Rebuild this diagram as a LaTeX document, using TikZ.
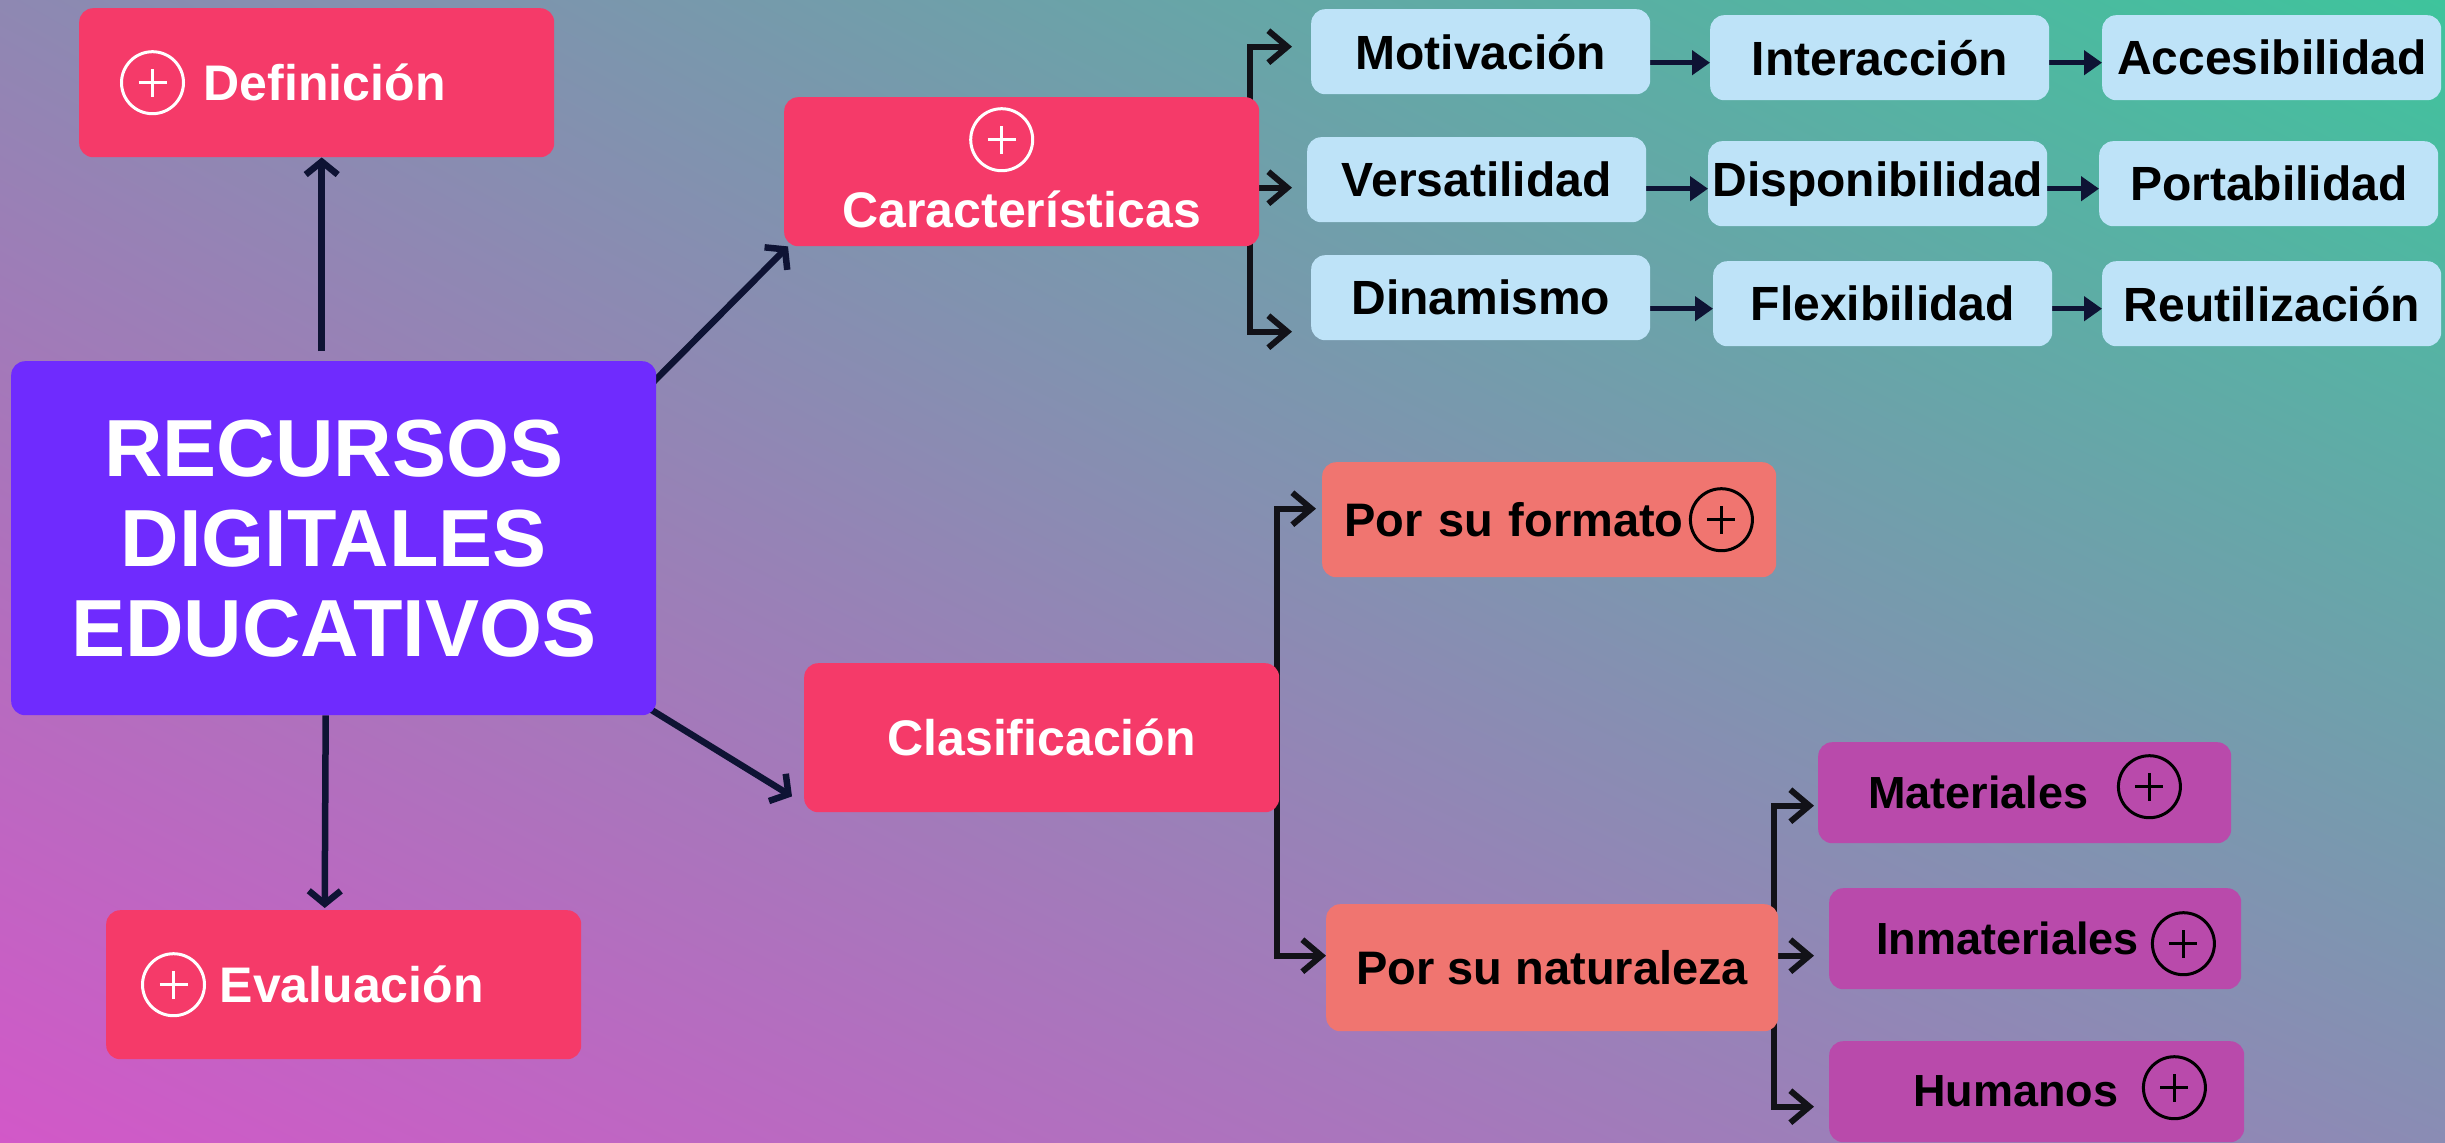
\documentclass[tikz,border=0pt]{standalone}
\usepackage{fontspec}
\setmainfont{Liberation Sans}
\usetikzlibrary{positioning,calc,arrows.meta,shadings}
\pgfdeclarelayer{back}
\pgfsetlayers{back,main}

\definecolor{bgteal}{HTML}{3EC49C}
\definecolor{bgmid}{HTML}{8E88B2}
\definecolor{bgmidb}{HTML}{8A8CB4}
\definecolor{bgpink}{HTML}{D258C8}
\definecolor{titleviolet}{HTML}{6F2BFE}
\definecolor{boxred}{HTML}{F53A69}
\definecolor{boxblue}{HTML}{BEE3F8}
\definecolor{boxsalmon}{HTML}{F07570}
\definecolor{boxpink}{HTML}{B94AAB}
\definecolor{linknavy}{HTML}{0E1334}
\definecolor{linkdark}{HTML}{121218}

\begin{document}
\begin{tikzpicture}[x=1pt,y=1pt,yscale=-1,
  box/.style={rounded corners=14pt, inner sep=0pt, anchor=north west, font=\bfseries\fontsize{48}{56}\selectfont},
  redbox/.style={box, fill=boxred, text=white, minimum width=475pt, minimum height=149pt, font=\bfseries\fontsize{50}{58}\selectfont},
  bluebox/.style={box, fill=boxblue, text=black, minimum width=339pt, minimum height=85pt},
  salmonbox/.style={box, fill=boxsalmon, text=black, minimum width=452pt, font=\bfseries\fontsize{47}{56}\selectfont},
  pinkbox/.style={box, fill=boxpink, text=black, align=left, minimum height=101pt, font=\bfseries\fontsize{45}{54}\selectfont},
  plusmark/.style={circle, draw=#1, line width=3pt, minimum size=62pt, inner sep=0pt,
    path picture={\draw[#1, line width=2.5pt]
      ($(path picture bounding box.center)+(-14,0)$) -- ($(path picture bounding box.center)+(14,0)$)
      ($(path picture bounding box.center)+(0,-14)$) -- ($(path picture bounding box.center)+(0,14)$);}},
  link/.style={draw=linknavy, line width=6.5pt, -{Straight Barb[length=13pt,width=32pt]}},
  branch/.style={draw=linkdark, line width=6pt},
  forktip/.style={branch, -{Straight Barb[length=19pt,width=32pt]}},
  forkpair/.style={branch, {Straight Barb[length=19pt,width=32pt]}-{Straight Barb[length=19pt,width=32pt]}},
  rowlink/.style={draw=linknavy, line width=5.5pt, -{Triangle[length=18pt,width=24pt]}}
]
\useasboundingbox (0,0) rectangle (2445,1143);

%Background
\begin{pgfonlayer}{back}
\shade[upper left=bgmid, upper right=bgteal, lower left=bgpink, lower right=bgmidb] (0,0) rectangle (2445,1143);
\end{pgfonlayer}

%Title box
\node[box, fill=titleviolet, text=white, minimum width=645pt, minimum height=354pt, align=center, font=\bfseries\fontsize{81}{90}\selectfont] (central) at (11,361) {RECURSOS\\DIGITALES\\EDUCATIVOS};

%Red boxes
\node[redbox] (defn) at (79,8) {\hspace*{16pt}Definición};
\node[plusmark=white, right=41pt of defn.west] (defnplus) {};
\node[redbox] (eval) at (106,910) {\hspace*{16pt}Evaluación};
\node[plusmark=white, right=35pt of eval.west] (evalplus) {};
\node[redbox, text height=112pt, text depth=0pt] (carac) at (784,97) {Características};
\node[plusmark=white] (caracplus) at ($(carac.center)+(-20,-32)$) {};
\node[redbox] (clas) at (804,663) {Clasificación};

%Characteristics
\node[bluebox] (motiv) at (1311,9) {Motivación};
\node[bluebox] (inter) at (1710,15) {Interacción};
\node[bluebox] (acces) at (2102,15) {Accesibilidad};
\node[bluebox] (versa) at (1307,137) {Versatilidad};
\node[bluebox] (dispo) at (1708,141) {Disponibilidad};
\node[bluebox] (porta) at (2099,141) {Portabilidad};
\node[bluebox] (dinam) at (1311,255) {Dinamismo};
\node[bluebox] (flexi) at (1713,261) {Flexibilidad};
\node[bluebox] (reuti) at (2102,261) {Reutilización};

%Classification
\node[salmonbox, minimum height=115pt, inner xsep=22pt, text width=410pt, align=left] (formato) at (1322,462) {Por su formato};
\node[plusmark=black] (formatoplus) at ($(formato.east)+(-55,0)$) {};
\node[salmonbox, minimum height=127pt] (natur) at (1326,904) {Por su naturaleza};
\node[pinkbox, inner xsep=50pt, text width=313pt] (mater) at (1818,742) {Materiales};
\node[plusmark=black] (materplus) at ($(mater.east)+(-82,-6)$) {};
\node[pinkbox, inner xsep=47pt, text width=318pt] (inmat) at (1829,888) {Inmateriales};
\node[plusmark=black] (inmatplus) at ($(inmat.east)+(-58,5)$) {};
\node[pinkbox, inner xsep=84pt, text width=247pt] (human) at (1829,1041) {Humanos};
\node[plusmark=black] (humanplus) at ($(human.east)+(-70,-4)$) {};

\begin{pgfonlayer}{back}
%Main links
\draw[link] ($(central.north)+(-12,-10)$) -- ($(defn.south)+(5,0)$);
\draw[link] ($(central.south)+(-8,0)$) -- ($(eval.north)+(-19,-2)$);
\draw[link] ($(central.north east)+(-3,21)$) -- ($(carac.south west)+(4,0)$);
\draw[link] ($(central.south east)+(-9,-8)$) -- ($(clas.south west)+(-12,-16)$);

%Fork of Caracteristicas
\coordinate (caracfork) at ($(carac.east)+(-9,0)$);
\coordinate (motivin) at ($(motiv.west)+(-19,-5)$);
\coordinate (versain) at ($(versa.west)+(-15,8)$);
\coordinate (dinamin) at ($(dinam.west)+(-19,34)$);
\draw[forkpair] (motivin) -| (caracfork) |- (dinamin);
\draw[forktip] (carac.east |- versain) -- (versain);

%Fork of Clasificacion
\coordinate (clasfork) at ($(clas.east)+(-2,0)$);
\coordinate (formatoin) at ($(formato.west)+(-6,-11)$);
\coordinate (naturin) at ($(natur.west)+(0,-12)$);
\draw[forkpair] (formatoin) -| (clasfork) |- (naturin);

%Fork of naturaleza
\coordinate (naturfork) at ($(natur.east)+(-4,0)$);
\coordinate (materin) at ($(mater.west)+(-4,13)$);
\coordinate (inmatin) at ($(inmat.west)+(-15,17)$);
\coordinate (humanin) at ($(human.west)+(-15,15)$);
\draw[forkpair] (materin) -| (naturfork) |- (humanin);
\draw[forktip] (natur.east |- inmatin) -- (inmatin);

%Rows
\foreach \a/\b in {motiv/inter,inter/acces,versa/dispo,dispo/porta,dinam/flexi,flexi/reuti}
  \draw[rowlink] ($(\a.east |- \b.west)+(0,5)$) -- ($(\b.west)+(0,5)$);
\end{pgfonlayer}

\end{tikzpicture}
\end{document}
